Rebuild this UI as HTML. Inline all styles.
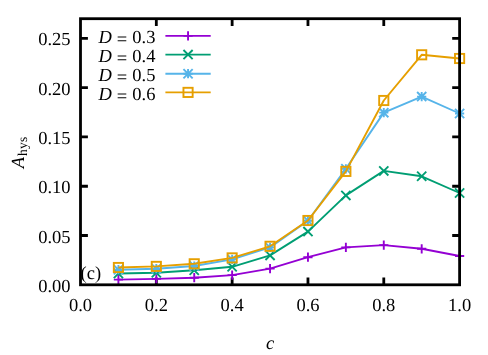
<!DOCTYPE html>
<html><head><meta charset="utf-8"><title>A_hys vs c</title>
<style>
html,body{margin:0;padding:0;background:#fff;}
svg{display:block;will-change:transform;}
text{font-family:"Liberation Serif",serif;fill:#000;text-rendering:geometricPrecision;}
</style></head><body>
<svg width="488" height="355" viewBox="0 0 488 355">
<rect x="0" y="0" width="488" height="355" fill="#fff"/>
<text x="70.6" y="291.80" font-size="18.5" text-anchor="end">0.00</text>
<text x="70.6" y="242.52" font-size="18.5" text-anchor="end">0.05</text>
<text x="70.6" y="193.24" font-size="18.5" text-anchor="end">0.10</text>
<text x="70.6" y="143.97" font-size="18.5" text-anchor="end">0.15</text>
<text x="70.6" y="94.69" font-size="18.5" text-anchor="end">0.20</text>
<text x="70.6" y="45.41" font-size="18.5" text-anchor="end">0.25</text>
<text x="80.50" y="311.2" font-size="18.5" text-anchor="middle">0.0</text>
<text x="156.32" y="311.2" font-size="18.5" text-anchor="middle">0.2</text>
<text x="232.14" y="311.2" font-size="18.5" text-anchor="middle">0.4</text>
<text x="307.96" y="311.2" font-size="18.5" text-anchor="middle">0.6</text>
<text x="383.78" y="311.2" font-size="18.5" text-anchor="middle">0.8</text>
<text x="459.60" y="311.2" font-size="18.5" text-anchor="middle">1.0</text>
<text x="270" y="349" font-size="18.5" font-style="italic" text-anchor="middle">c</text>
<text transform="translate(24,168.3) rotate(-90)" font-size="18.5"><tspan font-style="italic">A</tspan><tspan font-size="13.5" dx="1.0" dy="2.8" letter-spacing="0.3">hys</tspan></text>
<text x="80.6" y="279" font-size="18.5">(c)</text>
<text y="43.40" font-size="18.5"><tspan x="98.4" font-style="italic">D</tspan><tspan x="116.7" dy="1.6">=</tspan><tspan x="132.3" dy="-1.6">0.3</tspan></text>
<path d="M165.4 35.9H210.7" stroke="#9400d3" stroke-width="1.9" fill="none"/>
<path d="M183.45 35.90H192.65M188.05 31.30V40.50" stroke="#9400d3" stroke-width="1.9" fill="none"/>
<text y="62.10" font-size="18.5"><tspan x="98.4" font-style="italic">D</tspan><tspan x="116.7" dy="1.6">=</tspan><tspan x="132.3" dy="-1.6">0.4</tspan></text>
<path d="M165.4 54.6H210.7" stroke="#009e73" stroke-width="1.9" fill="none"/>
<path d="M183.45 50.00L192.65 59.20M183.45 59.20L192.65 50.00" stroke="#009e73" stroke-width="1.9" fill="none"/>
<text y="81.20" font-size="18.5"><tspan x="98.4" font-style="italic">D</tspan><tspan x="116.7" dy="1.6">=</tspan><tspan x="132.3" dy="-1.6">0.5</tspan></text>
<path d="M165.4 73.7H210.7" stroke="#56b4e9" stroke-width="1.9" fill="none"/>
<path d="M183.45 73.70H192.65M188.05 69.10V78.30M183.45 69.10L192.65 78.30M183.45 78.30L192.65 69.10" stroke="#56b4e9" stroke-width="1.9" fill="none"/>
<text y="99.90" font-size="18.5"><tspan x="98.4" font-style="italic">D</tspan><tspan x="116.7" dy="1.6">=</tspan><tspan x="132.3" dy="-1.6">0.6</tspan></text>
<path d="M165.4 92.4H210.7" stroke="#e69f00" stroke-width="1.9" fill="none"/>
<rect x="183.45" y="87.80" width="9.20" height="9.20" stroke="#e69f00" stroke-width="1.9" fill="none"/>
<path d="M80.5 235.52h7.4M459.6 235.52h-7.4M80.5 186.24h7.4M459.6 186.24h-7.4M80.5 136.97h7.4M459.6 136.97h-7.4M80.5 87.69h7.4M459.6 87.69h-7.4M80.5 38.41h7.4M459.6 38.41h-7.4M156.32 284.8v-7.4M156.32 18.7v7.4M232.14 284.8v-7.4M232.14 18.7v7.4M307.96 284.8v-7.4M307.96 18.7v7.4M383.78 284.8v-7.4M383.78 18.7v7.4" stroke="#000" stroke-width="2.8" fill="none"/>
<polyline points="118.41,279.60 156.32,278.90 194.23,277.70 232.14,275.10 270.05,268.60 307.96,257.20 345.87,247.40 383.78,245.10 421.69,248.80 459.60,256.00" stroke="#9400d3" stroke-width="1.9" fill="none" stroke-linejoin="round"/>
<path d="M113.81 279.60H123.01M118.41 275.00V284.20" stroke="#9400d3" stroke-width="1.9" fill="none"/>
<path d="M151.72 278.90H160.92M156.32 274.30V283.50" stroke="#9400d3" stroke-width="1.9" fill="none"/>
<path d="M189.63 277.70H198.83M194.23 273.10V282.30" stroke="#9400d3" stroke-width="1.9" fill="none"/>
<path d="M227.54 275.10H236.74M232.14 270.50V279.70" stroke="#9400d3" stroke-width="1.9" fill="none"/>
<path d="M265.45 268.60H274.65M270.05 264.00V273.20" stroke="#9400d3" stroke-width="1.9" fill="none"/>
<path d="M303.36 257.20H312.56M307.96 252.60V261.80" stroke="#9400d3" stroke-width="1.9" fill="none"/>
<path d="M341.27 247.40H350.47M345.87 242.80V252.00" stroke="#9400d3" stroke-width="1.9" fill="none"/>
<path d="M379.18 245.10H388.38M383.78 240.50V249.70" stroke="#9400d3" stroke-width="1.9" fill="none"/>
<path d="M417.09 248.80H426.29M421.69 244.20V253.40" stroke="#9400d3" stroke-width="1.9" fill="none"/>
<path d="M455.00 256.00H464.20M459.60 251.40V260.60" stroke="#9400d3" stroke-width="1.9" fill="none"/>
<polyline points="118.41,273.50 156.32,272.75 194.23,270.30 232.14,266.80 270.05,255.40 307.96,231.60 345.87,195.40 383.78,170.90 421.69,176.30 459.60,193.00" stroke="#009e73" stroke-width="1.9" fill="none" stroke-linejoin="round"/>
<path d="M113.81 268.90L123.01 278.10M113.81 278.10L123.01 268.90" stroke="#009e73" stroke-width="1.9" fill="none"/>
<path d="M151.72 268.15L160.92 277.35M151.72 277.35L160.92 268.15" stroke="#009e73" stroke-width="1.9" fill="none"/>
<path d="M189.63 265.70L198.83 274.90M189.63 274.90L198.83 265.70" stroke="#009e73" stroke-width="1.9" fill="none"/>
<path d="M227.54 262.20L236.74 271.40M227.54 271.40L236.74 262.20" stroke="#009e73" stroke-width="1.9" fill="none"/>
<path d="M265.45 250.80L274.65 260.00M265.45 260.00L274.65 250.80" stroke="#009e73" stroke-width="1.9" fill="none"/>
<path d="M303.36 227.00L312.56 236.20M303.36 236.20L312.56 227.00" stroke="#009e73" stroke-width="1.9" fill="none"/>
<path d="M341.27 190.80L350.47 200.00M341.27 200.00L350.47 190.80" stroke="#009e73" stroke-width="1.9" fill="none"/>
<path d="M379.18 166.30L388.38 175.50M379.18 175.50L388.38 166.30" stroke="#009e73" stroke-width="1.9" fill="none"/>
<path d="M417.09 171.70L426.29 180.90M417.09 180.90L426.29 171.70" stroke="#009e73" stroke-width="1.9" fill="none"/>
<path d="M455.00 188.40L464.20 197.60M455.00 197.60L464.20 188.40" stroke="#009e73" stroke-width="1.9" fill="none"/>
<polyline points="118.41,269.70 156.32,268.70 194.23,266.00 232.14,259.40 270.05,247.40 307.96,220.70 345.87,168.80 383.78,112.65 421.69,96.60 459.60,113.50" stroke="#56b4e9" stroke-width="1.9" fill="none" stroke-linejoin="round"/>
<path d="M113.81 269.70H123.01M118.41 265.10V274.30M113.81 265.10L123.01 274.30M113.81 274.30L123.01 265.10" stroke="#56b4e9" stroke-width="1.9" fill="none"/>
<path d="M151.72 268.70H160.92M156.32 264.10V273.30M151.72 264.10L160.92 273.30M151.72 273.30L160.92 264.10" stroke="#56b4e9" stroke-width="1.9" fill="none"/>
<path d="M189.63 266.00H198.83M194.23 261.40V270.60M189.63 261.40L198.83 270.60M189.63 270.60L198.83 261.40" stroke="#56b4e9" stroke-width="1.9" fill="none"/>
<path d="M227.54 259.40H236.74M232.14 254.80V264.00M227.54 254.80L236.74 264.00M227.54 264.00L236.74 254.80" stroke="#56b4e9" stroke-width="1.9" fill="none"/>
<path d="M265.45 247.40H274.65M270.05 242.80V252.00M265.45 242.80L274.65 252.00M265.45 252.00L274.65 242.80" stroke="#56b4e9" stroke-width="1.9" fill="none"/>
<path d="M303.36 220.70H312.56M307.96 216.10V225.30M303.36 216.10L312.56 225.30M303.36 225.30L312.56 216.10" stroke="#56b4e9" stroke-width="1.9" fill="none"/>
<path d="M341.27 168.80H350.47M345.87 164.20V173.40M341.27 164.20L350.47 173.40M341.27 173.40L350.47 164.20" stroke="#56b4e9" stroke-width="1.9" fill="none"/>
<path d="M379.18 112.65H388.38M383.78 108.05V117.25M379.18 108.05L388.38 117.25M379.18 117.25L388.38 108.05" stroke="#56b4e9" stroke-width="1.9" fill="none"/>
<path d="M417.09 96.60H426.29M421.69 92.00V101.20M417.09 92.00L426.29 101.20M417.09 101.20L426.29 92.00" stroke="#56b4e9" stroke-width="1.9" fill="none"/>
<path d="M455.00 113.50H464.20M459.60 108.90V118.10M455.00 108.90L464.20 118.10M455.00 118.10L464.20 108.90" stroke="#56b4e9" stroke-width="1.9" fill="none"/>
<polyline points="118.41,267.50 156.32,266.40 194.23,263.80 232.14,257.90 270.05,246.30 307.96,220.50 345.87,171.40 383.78,100.50 421.69,54.80 459.60,58.50" stroke="#e69f00" stroke-width="1.9" fill="none" stroke-linejoin="round"/>
<rect x="113.81" y="262.90" width="9.20" height="9.20" stroke="#e69f00" stroke-width="1.9" fill="none"/>
<rect x="151.72" y="261.80" width="9.20" height="9.20" stroke="#e69f00" stroke-width="1.9" fill="none"/>
<rect x="189.63" y="259.20" width="9.20" height="9.20" stroke="#e69f00" stroke-width="1.9" fill="none"/>
<rect x="227.54" y="253.30" width="9.20" height="9.20" stroke="#e69f00" stroke-width="1.9" fill="none"/>
<rect x="265.45" y="241.70" width="9.20" height="9.20" stroke="#e69f00" stroke-width="1.9" fill="none"/>
<rect x="303.36" y="215.90" width="9.20" height="9.20" stroke="#e69f00" stroke-width="1.9" fill="none"/>
<rect x="341.27" y="166.80" width="9.20" height="9.20" stroke="#e69f00" stroke-width="1.9" fill="none"/>
<rect x="379.18" y="95.90" width="9.20" height="9.20" stroke="#e69f00" stroke-width="1.9" fill="none"/>
<rect x="417.09" y="50.20" width="9.20" height="9.20" stroke="#e69f00" stroke-width="1.9" fill="none"/>
<rect x="455.00" y="53.90" width="9.20" height="9.20" stroke="#e69f00" stroke-width="1.9" fill="none"/>
<rect x="80.5" y="18.7" width="379.10" height="266.10" stroke="#000" stroke-width="2.8" fill="none"/>
</svg></body></html>
